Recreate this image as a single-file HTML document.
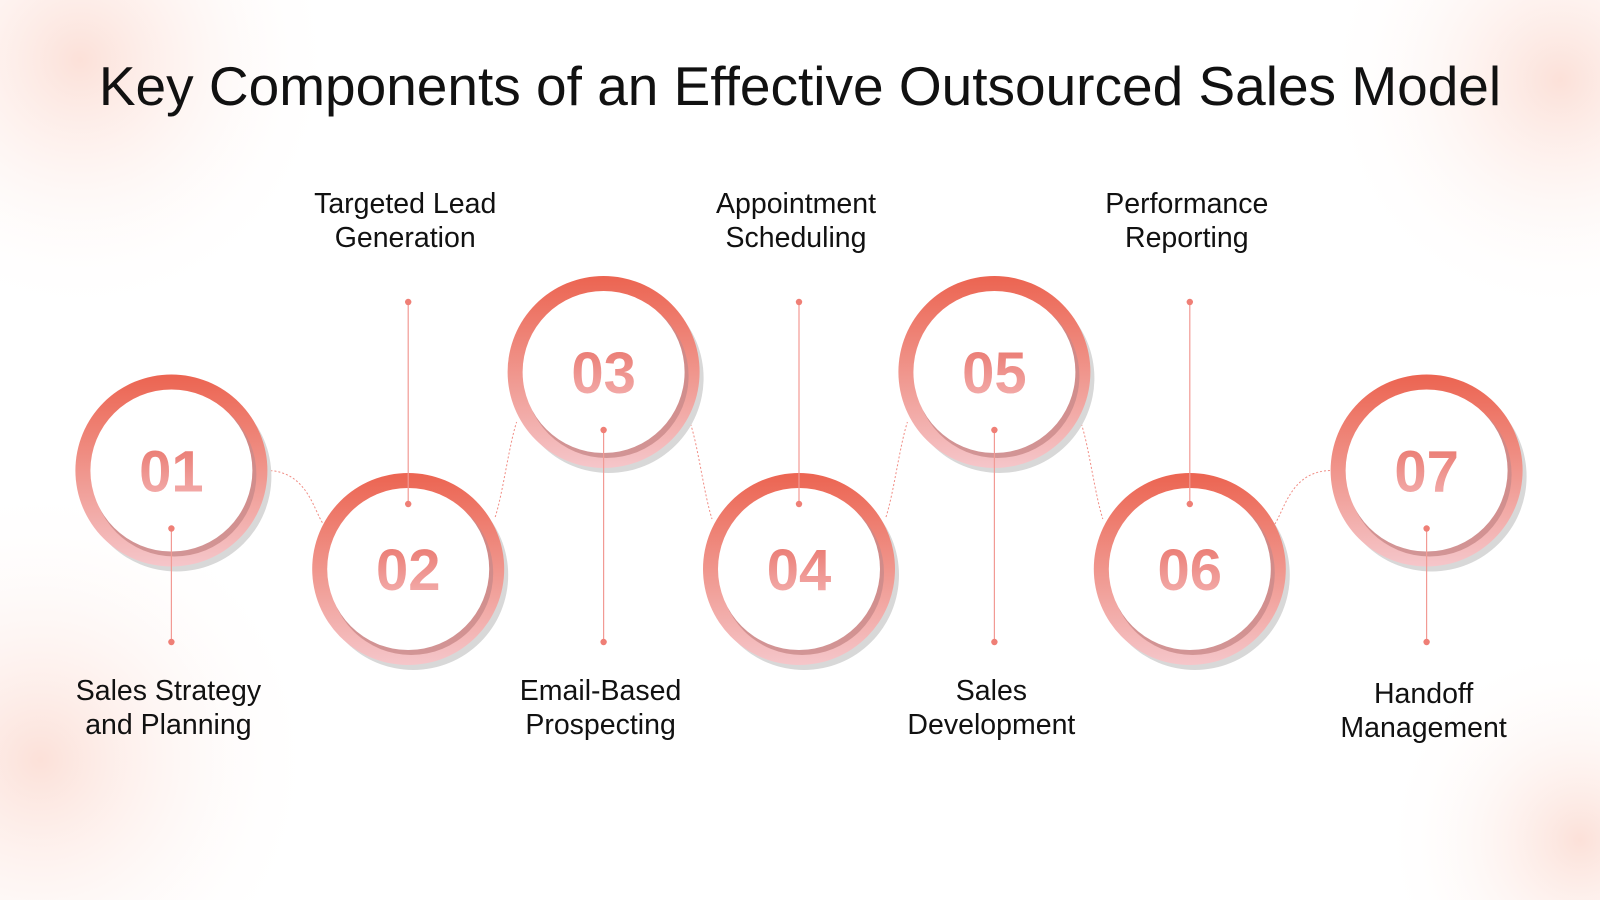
<!DOCTYPE html>
<html><head><meta charset="utf-8"><style>
html,body{margin:0;padding:0;width:1600px;height:900px;overflow:hidden;background:#fff}
svg{display:block;overflow:hidden}
text{font-family:"Liberation Sans",sans-serif}
</style></head><body>
<svg id="chart" width="1600" height="900" viewBox="0 0 1600 900">
<defs>
<radialGradient id="bg1" cx="0.5" cy="0.5" r="0.5"><stop offset="0" stop-color="#fbd9cf" stop-opacity="0.8"/><stop offset="1" stop-color="#fff" stop-opacity="0"/></radialGradient>
<linearGradient id="ring" x1="0" y1="0" x2="0" y2="1"><stop offset="0" stop-color="#ec6451"/><stop offset="0.55" stop-color="#f09a92"/><stop offset="1" stop-color="#f5c6ca"/></linearGradient>
<linearGradient id="num" x1="0" y1="0" x2="0" y2="1"><stop offset="0" stop-color="#e9746a"/><stop offset="1" stop-color="#f4b4b4"/></linearGradient>
</defs>
<g>
<circle cx="80" cy="60" r="260" fill="url(#bg1)"/>
<circle cx="1560" cy="80" r="240" fill="url(#bg1)"/>
<circle cx="40" cy="760" r="280" fill="url(#bg1)"/>
<circle cx="1580" cy="840" r="200" fill="url(#bg1)"/>
</g>
<text x="800" y="105" text-anchor="middle" font-size="55" fill="#111">Key Components of an Effective Outsourced Sales Model</text>
<g id="marks"></g>
</svg>
<script>
const stepNumbers=["01","02","03","04","05","06","07"];
const stepTitlesA=["Sales Strategy","Targeted Lead","Email-Based","Appointment","Sales","Performance","Handoff"];
const stepTitlesB=["and Planning","Generation","Prospecting","Scheduling","Development","Reporting","Management"];
const stepLevels=[1,0,2,0,2,0,1]; // 2=top,1=middle,0=bottom
const stepIndex=[0,1,2,3,4,5,6];
const NS="http://www.w3.org/2000/svg";
const g=document.getElementById('marks');
const xPos=i=>{const d=i-3;return Math.abs(d)===3?799+Math.sign(d)*627.6:799+d*195.4;};
const yPos=l=>569-l*98.5;
function mk(t,a,p){const e=document.createElementNS(NS,t);for(const k in a)e.setAttribute(k,a[k]);(p||g).appendChild(e);return e;}
for(let i=0;i<stepIndex.length-1;i++){
  const x1=xPos(i),y1=yPos(stepLevels[i]),x2=xPos(i+1),y2=yPos(stepLevels[i+1]);
  let d;
  if(Math.abs(y2-y1)>150){
    const s=y2>y1?1:-1;
    const sx=x1+87,sy=y1+s*52,ex=x2-87,ey=y2-s*50;
    d=`M${sx} ${sy} C${sx+8} ${sy+s*25} ${ex-8} ${ey-s*25} ${ex} ${ey}`;
  } else if(i===0){
    d=`M${x1+95} ${y1} C${x1+135} ${y1} ${x2-95} ${y2-60} ${x2-85} ${y2-45}`;
  } else {
    d=`M${x1+85} ${y1-45} C${x1+95} ${y1-60} ${x2-135} ${y2} ${x2-95} ${y2}`;
  }
  const p=mk('path',{d:d,fill:'none',stroke:'#f08c84','stroke-width':1,'stroke-dasharray':'2 2'});
  
  
}
stepIndex.forEach(i=>{
  const cx=xPos(i),cy=yPos(stepLevels[i]);
  const grp=mk('g',{});
  
  
  mk('circle',{cx:cx+5,cy:cy+6,r:95,fill:'#d8d8d8'},grp);
  mk('circle',{cx:cx,cy:cy,r:96,fill:'url(#ring)'},grp);
  mk('circle',{cx:cx+3,cy:cy+4,r:82,fill:'#c98a8a',opacity:0.8},grp);
  mk('circle',{cx:cx,cy:cy,r:81,fill:'#fff'},grp);
  const nt=mk('text',{x:cx,y:cy+21,'text-anchor':'middle','font-size':58,'font-weight':'bold',fill:'url(#num)'},grp);
  nt.textContent=stepNumbers[i];
  
  
  let yA,yB,ly1,ly2;
  if(stepLevels[i]===0){ly1=302;ly2=cy-65;yA=213;yB=247;}
  else {ly1=cy+58;ly2=642;yA=(i===6?703:700);yB=yA+34;}
  mk('line',{x1:cx,y1:ly1,x2:cx,y2:ly2,stroke:'#f29a94','stroke-width':1.2},grp);
  mk('circle',{cx:cx,cy:ly1,r:3.2,fill:'#ef7f76'},grp);
  mk('circle',{cx:cx,cy:ly2,r:3.2,fill:'#ef7f76'},grp);
  const lab=mk('text',{x:cx-3,'text-anchor':'middle','font-size':28.5,fill:'#111'},grp);
  
  
  const t1=mk('tspan',{x:cx-3,y:yA},lab);t1.textContent=stepTitlesA[i];
  const t2=mk('tspan',{x:cx-3,y:yB},lab);t2.textContent=stepTitlesB[i];
});
</script>
</body></html>
